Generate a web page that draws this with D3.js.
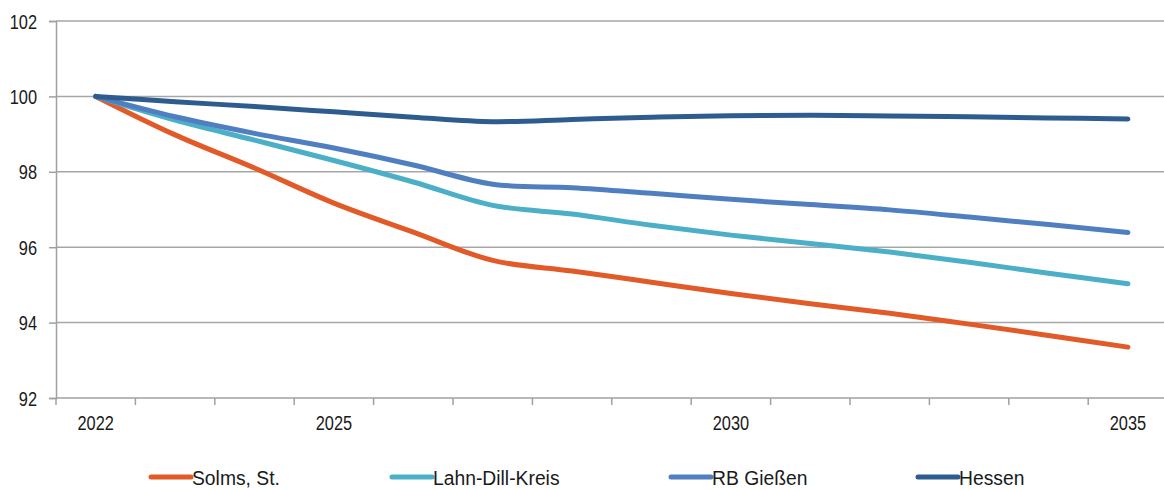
<!DOCTYPE html>
<html>
<head>
<meta charset="utf-8">
<script src="https://cdn.jsdelivr.net/npm/d3@7"></script>
<style>
  html, body { margin: 0; padding: 0; background: #fff; }
  svg text { font-family: 'Liberation Sans', Arial, sans-serif; fill: #1a1a1a; }
</style>
</head>
<body>
<svg id="chart" width="1164" height="490"></svg>
<script>
// Population index (2022 = 100)
const years = ["2022","2023","2024","2025","2026","2027","2028","2029","2030","2031","2032","2033","2034","2035"];
const labelledYears = ["2022","2025","2030","2035"];
const yTicks = [92, 94, 96, 98, 100, 102];

const seriesNames = ["Solms, St.", "Lahn-Dill-Kreis", "RB Gießen", "Hessen"];
const seriesColors = ["#E15A27", "#4BAFC8", "#4F7FC0", "#2F5C8F"];

const solms     = [100, 98.98, 98.10, 97.17, 96.40, 95.65, 95.37, 95.07, 94.77, 94.50, 94.25, 93.96, 93.66, 93.35];
const lahnDill  = [100, 99.37, 98.84, 98.30, 97.73, 97.11, 96.88, 96.58, 96.32, 96.10, 95.87, 95.60, 95.31, 95.03];
const rbGiessen = [100, 99.46, 99.02, 98.63, 98.18, 97.67, 97.58, 97.43, 97.27, 97.13, 96.99, 96.80, 96.60, 96.39];
const hessen    = [100, 99.86, 99.73, 99.59, 99.45, 99.33, 99.39, 99.45, 99.49, 99.50, 99.48, 99.46, 99.43, 99.40];

const seriesValues = [solms, lahnDill, rbGiessen, hessen];

const svg = d3.select("#chart");
const plotLeft = 56, plotTop = 21, plotBottom = 398, plotRight = 1164;
const bandW = 79.4;
const axisGrey = "#a0a0a0";

const x = d3.scaleBand().domain(years).range([plotLeft, plotLeft + bandW * years.length]);
const y = d3.scaleLinear().domain([92, 102]).range([plotBottom, plotTop]);

// horizontal gridlines
svg.append("g").selectAll("line").data(yTicks.filter(t => t !== 92)).join("line")
  .attr("x1", plotLeft).attr("x2", plotRight)
  .attr("y1", d => y(d)).attr("y2", d => y(d))
  .attr("stroke", "#a6a6a6").attr("stroke-width", 1.5);

// y axis (line + tick marks from d3, labels drawn condensed)
const yAxis = svg.append("g")
  .attr("transform", `translate(${plotLeft},0)`)
  .call(d3.axisLeft(y).tickValues(yTicks).tickSize(7).tickFormat(""));
yAxis.select(".domain").attr("stroke", axisGrey).attr("stroke-width", 1.5);
yAxis.selectAll(".tick line").attr("stroke", axisGrey).attr("stroke-width", 1.5);

svg.append("g").selectAll("g").data(yTicks).join("g")
  .attr("transform", d => `translate(37,${y(d)}) scale(0.78,1)`)
  .append("text")
  .attr("text-anchor", "end")
  .attr("dy", "0.36em")
  .attr("font-size", 21)
  .text(d => d);

// x axis baseline and category boundary ticks
svg.append("line")
  .attr("x1", plotLeft).attr("x2", plotRight).attr("y1", plotBottom).attr("y2", plotBottom)
  .attr("stroke", axisGrey).attr("stroke-width", 1.5);
const bounds = years.map(d => x(d)).concat([x(years[years.length - 1]) + x.bandwidth()]);
svg.append("g").selectAll("line").data(bounds.filter(b => b <= plotRight)).join("line")
  .attr("x1", d => d).attr("x2", d => d)
  .attr("y1", plotBottom).attr("y2", plotBottom + 7)
  .attr("stroke", axisGrey).attr("stroke-width", 1.5);

svg.append("g").selectAll("g").data(labelledYears).join("g")
  .attr("transform", d => `translate(${x(d) + x.bandwidth() / 2},430) scale(0.78,1)`)
  .append("text")
  .attr("text-anchor", "middle")
  .attr("font-size", 21)
  .text(d => d);

// series lines
const line = d3.line()
  .x((d, i) => x(years[i]) + x.bandwidth() / 2)
  .y(d => y(d))
  .curve(d3.curveCatmullRom.alpha(0.5));

svg.append("g").selectAll("path").data(seriesValues).join("path")
  .attr("d", d => line(d))
  .attr("fill", "none")
  .attr("stroke", (d, i) => seriesColors[i])
  .attr("stroke-width", 5)
  .attr("stroke-linecap", "round")
  .attr("stroke-linejoin", "round");

// legend
const legendX = [150, 391, 670, 917];
const leg = svg.append("g").selectAll("g").data(seriesNames).join("g")
  .attr("transform", (d, i) => `translate(${legendX[i]},477)`);
leg.append("line")
  .attr("x1", 1).attr("x2", 41).attr("y1", 0).attr("y2", 0)
  .attr("stroke", (d, i) => seriesColors[i])
  .attr("stroke-width", 5).attr("stroke-linecap", "round");
leg.append("g")
  .attr("transform", "translate(42,8) scale(0.92,1)")
  .append("text")
  .attr("font-size", 21)
  .text(d => d);
</script>
</body>
</html>
